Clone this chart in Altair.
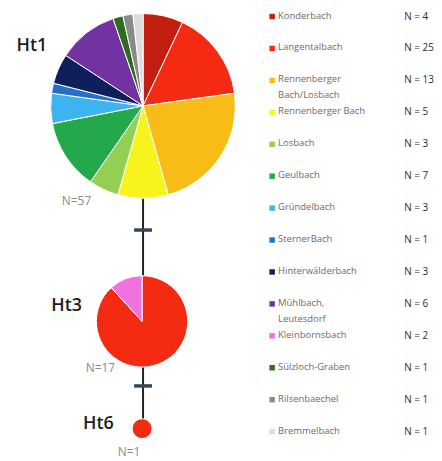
import altair as alt
import pandas as pd

# ---- data ----
sites = ["Konderbach", "Langentalbach", "Rennenberger\nBach/Losbach", "Rennenberger Bach",
         "Losbach", "Geulbach", "Gründelbach", "SternerBach", "Hinterwälderbach",
         "Mühlbach,\nLeutesdorf", "Kleinbornsbach", "Sülzloch-Graben", "Rilsenbaechel", "Bremmelbach"]
site_totals = [4, 25, 13, 5, 3, 7, 3, 1, 3, 6, 2, 1, 1, 1]
colors = ["#c21f10", "#f42b12", "#f7bc16", "#f7f31c", "#93cf52", "#23a94b", "#3db3f0",
          "#2470c6", "#0e1f5c", "#7232a2", "#f171df", "#2f6b20", "#8a8a8a", "#dcdcdc"]

ht1_counts = [4, 9, 13, 5, 3, 7, 3, 1, 3, 6, 0, 1, 1, 1]
ht3_counts = [0, 15, 0, 0, 0, 0, 0, 0, 0, 0, 2, 0, 0, 0]
ht6_counts = [0, 1, 0, 0, 0, 0, 0, 0, 0, 0, 0, 0, 0, 0]
haplotypes = ["Ht1", "Ht3", "Ht6"]
hap_totals = [57, 17, 1]

# ---- layout (network drawing positions in px of left panel) ----
W, H = 262, 453
node_x = [136, 135, 135]
node_y = [97, 314, 422]
node_r = [93, 46, 10]
label_x = [24, 59, 91]
label_y = [37, 299, 417]
nlab_x = [69, 93, 122]
nlab_y = [193, 361, 446]
tick_y = [222, 379]

xs = alt.Scale(domain=[0, W], nice=False, zero=False)
ys = alt.Scale(domain=[0, H], reverse=True, nice=False, zero=False)
color_scale = alt.Scale(domain=sites, range=colors)

# edges
edges = pd.DataFrame({"x": [node_x[0]], "y": [node_y[0]], "y2": [node_y[2]]})
edge_layer = alt.Chart(edges).mark_rule(color="#222222", strokeWidth=2).encode(
    x=alt.X("x:Q", scale=xs, axis=None),
    y=alt.Y("y:Q", scale=ys, axis=None),
    y2="y2:Q",
)
ticks = pd.DataFrame({"x": [node_x[0] - 9] * 2, "x2": [node_x[0] + 9] * 2, "y": tick_y})
tick_layer = alt.Chart(ticks).mark_rule(color="#34465a", strokeWidth=3.5).encode(
    x=alt.X("x:Q", scale=xs, axis=None), x2="x2:Q",
    y=alt.Y("y:Q", scale=ys, axis=None),
)

pie_layers = []
for i, counts in enumerate([ht1_counts, ht3_counts, ht6_counts]):
    df = pd.DataFrame({
        "site": sites, "n": counts, "order": list(range(len(sites))),
        "x": node_x[i], "y": node_y[i],
    })
    df = df[df["n"] > 0]
    pie_layers.append(
        alt.Chart(df).mark_arc(outerRadius=node_r[i], stroke="white", strokeWidth=1).encode(
            x=alt.X("x:Q", scale=xs, axis=None),
            y=alt.Y("y:Q", scale=ys, axis=None),
            theta=alt.Theta("n:Q", stack=True),
            color=alt.Color("site:N", scale=color_scale, legend=None),
            order=alt.Order("order:Q"),
        )
    )

labels = pd.DataFrame({"t": haplotypes, "x": label_x, "y": label_y})
label_layer = alt.Chart(labels).mark_text(fontSize=18, font="Open Sans", fontWeight=600,
                                          color="#1e1e1e").encode(
    x=alt.X("x:Q", scale=xs, axis=None), y=alt.Y("y:Q", scale=ys, axis=None), text="t:N")

nlabs = pd.DataFrame({"t": [f"N={n}" for n in hap_totals], "x": nlab_x, "y": nlab_y})
nlab_layer = alt.Chart(nlabs).mark_text(fontSize=12, font="Open Sans", color="#8a8a8a").encode(
    x=alt.X("x:Q", scale=xs, axis=None), y=alt.Y("y:Q", scale=ys, axis=None), text="t:N")

left = alt.layer(edge_layer, tick_layer, *pie_layers, label_layer, nlab_layer).resolve_scale(
    theta="independent").properties(width=W, height=H)

# ---- legend panel ----
leg = pd.DataFrame({"site": sites, "n": [f"N = {v}" for v in site_totals]})
ly = alt.Y("site:N", scale=alt.Scale(type="point", domain=sites, range=[7, 425], padding=0), axis=None)
lx = alt.Scale(domain=[0, 164], nice=False, zero=False)
sq = alt.Chart(leg).mark_square(size=30, opacity=1).encode(
    x=alt.X("x:Q", scale=lx, axis=None), y=ly,
    color=alt.Color("site:N", scale=color_scale, legend=None),
).transform_calculate(x="4")
txt = alt.Chart(leg).mark_text(align="left", baseline="top", dy=-6, fontSize=9.5, font="Open Sans",
                               color="#6a6a6a", lineBreak="\n", lineHeight=16).encode(
    x=alt.X("x:Q", scale=lx, axis=None), y=ly, text="site:N",
).transform_calculate(x="10")
ntxt = alt.Chart(leg).mark_text(align="left", fontSize=10, font="Open Sans", color="#2a2a2a").encode(
    x=alt.X("x:Q", scale=lx, axis=None), y=ly, text="n:N",
).transform_calculate(x="137")
right = alt.layer(sq, txt, ntxt).properties(width=164, height=H)

chart = alt.hconcat(left, right, spacing=0).properties(padding=0).configure_view(stroke=None)
chart.save("out.html", embed_options={"renderer": "svg", "actions": False})
